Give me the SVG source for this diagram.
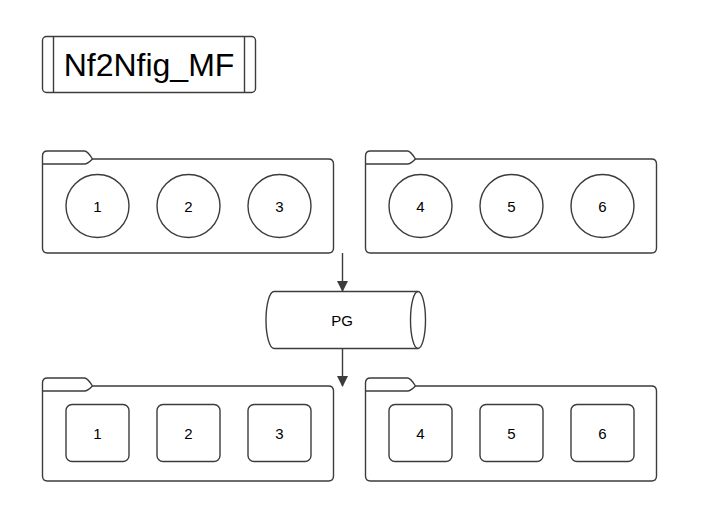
<svg xmlns="http://www.w3.org/2000/svg" width="713" height="522" viewBox="0 0 713 522">
<defs>
<style>
.s{fill:#fff;stroke:#3c3c3c;stroke-width:1.4}
.n{fill:none;stroke:#3c3c3c;stroke-width:1.4}
.t{font-family:"Liberation Sans",Arial,sans-serif;font-size:15px;fill:#000;text-anchor:middle;dominant-baseline:central}
.e{stroke:#3c3c3c;stroke-width:1.4;fill:none}
</style>
<marker id="ah" markerWidth="11" markerHeight="11" refX="10" refY="5.5" orient="auto" markerUnits="userSpaceOnUse">
<path d="M0,0 L11,5.5 L0,11 Z" fill="#3c3c3c"/>
</marker>
</defs>
<rect width="713" height="522" fill="#fff"/>
<g id="title">
<rect class="s" x="42.5" y="36.5" width="213" height="56" rx="4"/>
<line class="n" x1="53.5" y1="36.5" x2="53.5" y2="92.5"/>
<line class="n" x1="244.5" y1="36.5" x2="244.5" y2="92.5"/>
<text class="t" x="149" y="65" style="font-size:32px">Nf2Nfig_MF</text>
</g>
<g id="groupTL" transform="translate(42.5,159)">
<path class="s" d="M0,-3 Q0,-8 5,-8 L42,-8 Q45,-8 50,0 L286,0 Q291,0 291,5 L291,89 Q291,94 286,94 L5,94 Q0,94 0,89 Z"/>
<path class="n" d="M0,5 L42,5 Q45,5 50,0"/>
</g>
<g id="c1"><circle class="s" cx="97.5" cy="206" r="31.5"/><text class="t" x="97.5" y="206">1</text></g>
<g id="c2"><circle class="s" cx="188.5" cy="206" r="31.5"/><text class="t" x="188.5" y="206">2</text></g>
<g id="c3"><circle class="s" cx="279.5" cy="206" r="31.5"/><text class="t" x="279.5" y="206">3</text></g>
<g id="groupTR" transform="translate(365.5,159)">
<path class="s" d="M0,-3 Q0,-8 5,-8 L42,-8 Q45,-8 50,0 L286,0 Q291,0 291,5 L291,89 Q291,94 286,94 L5,94 Q0,94 0,89 Z"/>
<path class="n" d="M0,5 L42,5 Q45,5 50,0"/>
</g>
<g id="c4"><circle class="s" cx="420.5" cy="206" r="31.5"/><text class="t" x="420.5" y="206">4</text></g>
<g id="c5"><circle class="s" cx="511.5" cy="206" r="31.5"/><text class="t" x="511.5" y="206">5</text></g>
<g id="c6"><circle class="s" cx="602.5" cy="206" r="31.5"/><text class="t" x="602.5" y="206">6</text></g>
<g id="pg">
<path class="s" d="M274,291.5 L418,291.5 A7.5,28.5 0 0 1 418,348.5 L274,348.5 A8,28.5 0 0 1 274,291.5 Z"/>
<path class="n" d="M418,291.5 A7.5,28.5 0 0 0 418,348.5"/>
<text class="t" x="342" y="320">PG</text>
</g>
<g id="groupBL" transform="translate(42.5,386)">
<path class="s" d="M0,-3 Q0,-8 5,-8 L42,-8 Q45,-8 50,0 L286,0 Q291,0 291,5 L291,90 Q291,95 286,95 L5,95 Q0,95 0,90 Z"/>
<path class="n" d="M0,5 L42,5 Q45,5 50,0"/>
</g>
<g id="r1"><rect class="s" x="66" y="404.5" width="63" height="57" rx="6"/><text class="t" x="97.5" y="433">1</text></g>
<g id="r2"><rect class="s" x="157" y="404.5" width="63" height="57" rx="6"/><text class="t" x="188.5" y="433">2</text></g>
<g id="r3"><rect class="s" x="248" y="404.5" width="63" height="57" rx="6"/><text class="t" x="279.5" y="433">3</text></g>
<g id="groupBR" transform="translate(365.5,386)">
<path class="s" d="M0,-3 Q0,-8 5,-8 L42,-8 Q45,-8 50,0 L286,0 Q291,0 291,5 L291,90 Q291,95 286,95 L5,95 Q0,95 0,90 Z"/>
<path class="n" d="M0,5 L42,5 Q45,5 50,0"/>
</g>
<g id="r4"><rect class="s" x="389" y="404.5" width="63" height="57" rx="6"/><text class="t" x="420.5" y="433">4</text></g>
<g id="r5"><rect class="s" x="480" y="404.5" width="63" height="57" rx="6"/><text class="t" x="511.5" y="433">5</text></g>
<g id="r6"><rect class="s" x="571" y="404.5" width="63" height="57" rx="6"/><text class="t" x="602.5" y="433">6</text></g>
<g id="connectors">
<line class="e" x1="342.5" y1="253" x2="342.5" y2="291" marker-end="url(#ah)"/>
<line class="e" x1="342.5" y1="348.5" x2="342.5" y2="386" marker-end="url(#ah)"/>
</g>
</svg>
